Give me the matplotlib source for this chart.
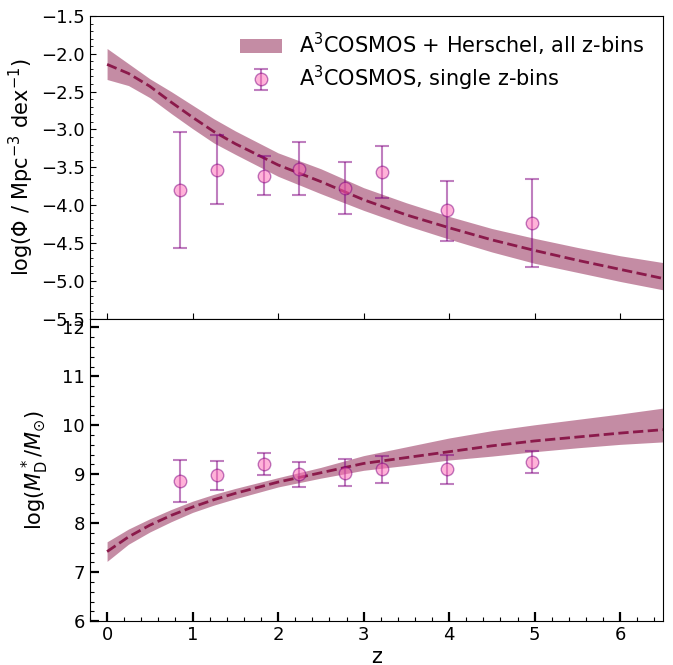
import numpy as np
import matplotlib
matplotlib.use("Agg")
import matplotlib.pyplot as plt
from matplotlib.ticker import MultipleLocator

# --------------------------
# Data
# --------------------------
# fitted evolution (all z-bins): redshift grid, median and 1-sigma band
z_grid = [0.0, 0.25, 0.5, 0.75, 1.0, 1.25, 1.5, 2.0, 2.5, 3.0, 3.5, 4.0, 4.5, 5.0, 5.5, 6.0, 6.5]

phi_med = [-2.14, -2.26, -2.43, -2.64, -2.84, -3.03, -3.19, -3.47, -3.69, -3.93,
           -4.13, -4.30, -4.46, -4.60, -4.73, -4.85, -4.97]
phi_up = [-1.93, -2.13, -2.33, -2.50, -2.68, -2.86, -3.02, -3.31, -3.52, -3.77,
          -3.97, -4.15, -4.31, -4.44, -4.56, -4.67, -4.76]
phi_dn = [-2.34, -2.42, -2.58, -2.79, -2.99, -3.18, -3.33, -3.62, -3.85, -4.07,
          -4.27, -4.45, -4.62, -4.77, -4.89, -5.01, -5.12]

mstar_med = [7.42, 7.72, 7.96, 8.16, 8.33, 8.48, 8.61, 8.84, 9.03, 9.22,
             9.34, 9.46, 9.58, 9.68, 9.76, 9.84, 9.91]
mstar_up = [7.62, 7.88, 8.09, 8.28, 8.45, 8.59, 8.71, 8.93, 9.14, 9.38,
            9.56, 9.74, 9.89, 10.01, 10.12, 10.23, 10.35]
mstar_dn = [7.22, 7.57, 7.82, 8.03, 8.22, 8.37, 8.50, 8.74, 8.92, 9.08,
            9.18, 9.29, 9.37, 9.46, 9.54, 9.61, 9.66]

# single z-bin fits
z_bins = [0.85, 1.29, 1.83, 2.25, 2.78, 3.21, 3.97, 4.97]

phi_bins = [-3.80, -3.53, -3.62, -3.52, -3.78, -3.56, -4.07, -4.24]
phi_bins_hi = [-3.03, -3.08, -3.35, -3.17, -3.43, -3.22, -3.68, -3.66]
phi_bins_lo = [-4.57, -3.98, -3.87, -3.87, -4.12, -3.90, -4.47, -4.82]

mstar_bins = [8.86, 8.98, 9.21, 9.00, 9.03, 9.10, 9.10, 9.25]
mstar_bins_hi = [9.29, 9.27, 9.43, 9.25, 9.31, 9.37, 9.40, 9.47]
mstar_bins_lo = [8.43, 8.67, 8.98, 8.74, 8.76, 8.82, 8.80, 9.03]

# --------------------------
# Styles
# --------------------------
band_color = '#8b1a4b'
line_color = '#8b1a4b'
pt_face = 'hotpink'
pt_edge = 'purple'

fig, (ax1, ax2) = plt.subplots(2, 1, sharex=True, figsize=(6.73, 6.65), dpi=100,
                               gridspec_kw={'hspace': 0})
fig.subplots_adjust(left=0.1337, right=0.985, top=0.976, bottom=0.066)


def draw_panel(ax, med, up, dn, pts, hi, lo, with_label):
    ax.fill_between(z_grid, dn, up, color=band_color, alpha=0.5, linewidth=0,
                    label='A$^3$COSMOS + Herschel, all z-bins' if with_label else None)
    ax.plot(z_grid, med, '--', color=line_color, lw=2)
    pts = np.array(pts)
    yerr = [pts - np.array(lo), np.array(hi) - pts]
    ax.errorbar(z_bins, pts, yerr=yerr, fmt='o', ms=9, mfc=pt_face, mec=pt_edge,
                ecolor=pt_edge, elinewidth=1.5, capsize=5, capthick=1.5, alpha=0.5,
                label='A$^3$COSMOS, single z-bins' if with_label else None)


# --------------------------
# Top panel: number density
# --------------------------
draw_panel(ax1, phi_med, phi_up, phi_dn, phi_bins, phi_bins_hi, phi_bins_lo, True)
ax1.set_ylim(-5.5, -1.5)
ax1.yaxis.set_major_locator(MultipleLocator(0.5))
ax1.yaxis.set_minor_locator(MultipleLocator(0.1))
ax1.set_ylabel(r'log($\Phi$ / Mpc$^{-3}$ dex$^{-1}$)', fontsize=15)
ax1.tick_params(axis='both', which='both', direction='in', labelsize=13)
ax1.tick_params(axis='y', which='major', length=4, width=0.8)
ax1.tick_params(axis='y', which='minor', length=2.5, width=0.6)
ax1.tick_params(axis='x', which='major', length=4, width=0.8)
ax1.tick_params(axis='x', which='minor', length=0)
ax1.legend(loc='upper right', bbox_to_anchor=(1.0, 1.013), frameon=False,
           fontsize=15, labelspacing=0.3)

# --------------------------
# Bottom panel: characteristic mass
# --------------------------
draw_panel(ax2, mstar_med, mstar_up, mstar_dn, mstar_bins, mstar_bins_hi, mstar_bins_lo, False)
ax2.set_xlim(-0.2, 6.5)
ax2.set_ylim(6, 12.18)
ax2.xaxis.set_major_locator(MultipleLocator(1))
ax2.xaxis.set_minor_locator(MultipleLocator(0.2))
ax2.yaxis.set_major_locator(MultipleLocator(1))
ax2.yaxis.set_minor_locator(MultipleLocator(0.2))
ax2.set_xlabel('z', fontsize=15, labelpad=2)
ax2.set_ylabel(r'log($M^*_{\rm D}/M_{\odot}$)', fontsize=15, labelpad=8)
ax2.tick_params(axis='both', which='both', direction='in', labelsize=13)
ax2.tick_params(axis='both', which='major', length=6.5, width=1.6)
ax2.tick_params(axis='both', which='minor', length=3, width=0.8)

fig.savefig('out.png', dpi=100)
